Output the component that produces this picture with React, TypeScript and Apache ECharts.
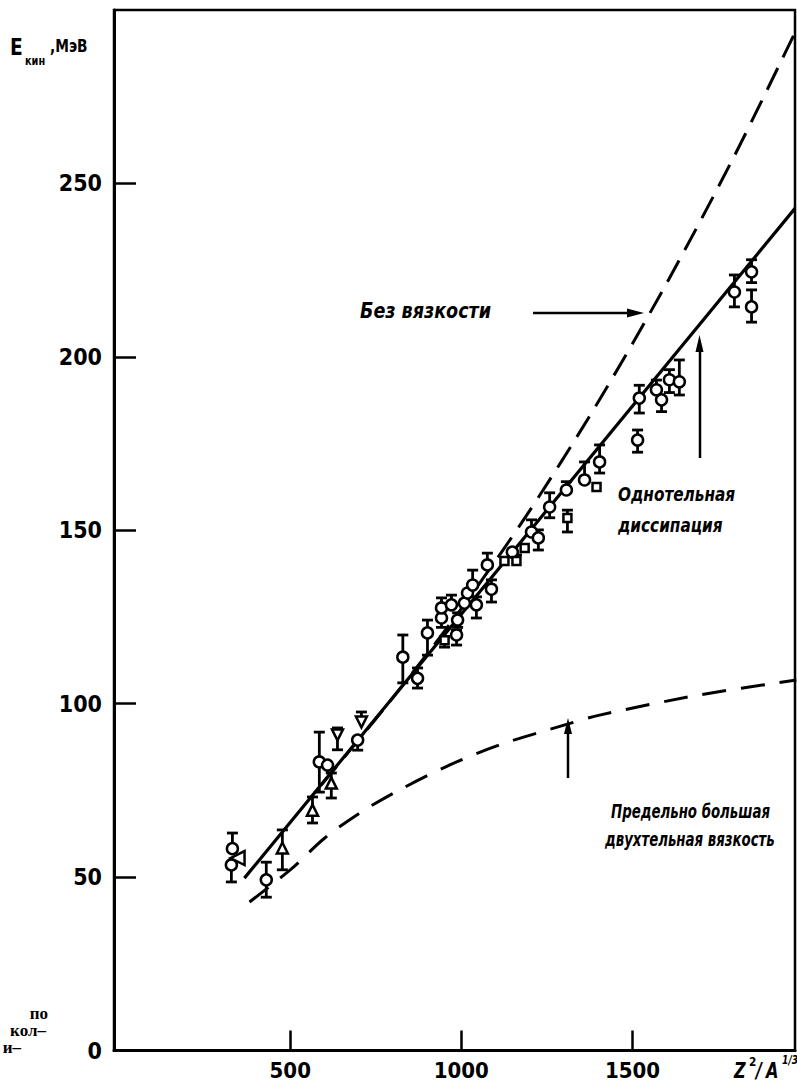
import React, { useEffect, useRef } from "react";
import * as echarts from "echarts";

// ---- data ----
const xTickValues = [500, 1000, 1500];
const yTickValues = [0, 50, 100, 150, 200, 250];

// [x, E, low, high]
const circlePoints = [
  [331, 58.2, 58.2, 62.7],
  [328, 53.5, 48.6, 53.5],
  [430, 49.2, 44.2, 54.3],
  [585, 83.2, 74.5, 91.8],
  [609, 82.3, 82.3, 82.3],
  [697, 89.5, 86.6, 89.5],
  [829, 113.4, 106, 119.8],
  [872, 107.3, 104.5, 110.3],
  [901, 120.4, 114, 124.1],
  [942, 124.7, 122, 124.7],
  [942, 127.6, 127.6, 130.5],
  [971, 128.5, 128.5, 131.3],
  [989, 124.1, 122, 126.2],
  [986, 119.8, 116.9, 121.2],
  [1009, 129, 129, 129],
  [1018, 131.9, 131.9, 131.9],
  [1033, 134.2, 134.2, 138.5],
  [1044, 128.5, 124.7, 130.8],
  [1076, 140, 140, 143.4],
  [1088, 133, 129.3, 135.7],
  [1149, 143.7, 143.7, 143.7],
  [1205, 149.5, 149.5, 153],
  [1225, 147.8, 144.3, 150.1],
  [1258, 156.7, 153.6, 160.8],
  [1307, 161.6, 161.6, 164],
  [1360, 164.5, 164.5, 169.7],
  [1404, 169.7, 166.5, 174.6],
  [1515, 176, 172.5, 178.9],
  [1520, 188.1, 183.8, 191.8],
  [1570, 190.5, 190.5, 193.3],
  [1585, 187.6, 184.2, 187.6],
  [1608, 193.4, 189.7, 196.3],
  [1637, 192.8, 189, 199.1],
  [1798, 218.7, 214.4, 223.6],
  [1848, 224.5, 221.4, 228],
  [1848, 214.4, 210, 219.3],
];
const triangleUpPoints = [
  [477, 58.4, 52.1, 63.6],
  [565, 69.3, 65.6, 73.1],
  [620, 77.1, 72.8, 80],
];
const triangleDownPoints = [
  [638, 91, 86.7, 93],
  [708, 94.7, 94.7, 97.6],
];
const triangleLeftPoints = [[346, 55.5, 55.5, 55.5]];
const squarePoints = [
  [951, 118.3, 116.3, 119.2],
  [1126, 141.1, 141.1, 141.1],
  [1161, 141.1, 141.1, 142.9],
  [1185, 144.9, 144.9, 144.9],
  [1310, 153.5, 149.5, 155.8],
  [1395, 162.5, 162.5, 162.5],
];

// theory curves
const oneBodyLine = [
  [366, 49.7],
  [1975, 242.8],
];
const noViscosityCurve = [
  [591, 76.6],
  [791, 100.6],
  [991, 126.2],
  [1192, 154.5],
  [1392, 185.7],
  [1593, 220],
  [1793, 257],
  [1975, 293.5],
];
const twoBodyCurve = [
  [381, 42.8],
  [506, 52.6],
  [600, 61.2],
  [708, 68.8],
  [819, 75.1],
  [965, 82.3],
  [1111, 88.1],
  [1310, 94.1],
  [1404, 96.7],
  [1695, 102.5],
  [1979, 106.8],
];

const FONT = "'DejaVu Sans Condensed', 'DejaVu Sans', sans-serif";

export default function App() {
  const ref = useRef<HTMLDivElement>(null);
  useEffect(() => {
    if (!ref.current) return;
    const chart = echarts.init(ref.current, null, { renderer: "svg" });

    const allPoints = [
      ...circlePoints,
      ...triangleUpPoints,
      ...triangleDownPoints,
      ...triangleLeftPoints,
      ...squarePoints,
    ];

    const markerStyle = { color: "#fff", borderColor: "#000", borderWidth: 2.5, opacity: 1 };

    const scatter = (data: number[][], symbol: string, size: number, rotate = 0) => ({
      type: "scatter",
      data: data.map((d) => [d[0], d[1]]),
      symbol,
      symbolSize: size,
      symbolRotate: rotate,
      itemStyle: markerStyle,
      z: 5,
      silent: true,
    });

    const arrowLine = (x1: number, y1: number, x2: number, y2: number) => ({
      type: "line",
      shape: { x1, y1, x2, y2 },
      style: { stroke: "#000", lineWidth: 2.5 },
    });
    const head = (pts: number[][]) => ({
      type: "polygon",
      shape: { points: pts },
      style: { fill: "#000" },
    });
    const txt = (x: number, y: number, text: string, size: number, extra: any = {}, sx = 1) => ({
      type: "text",
      x,
      y,
      scaleX: sx,
      style: {
        text,
        fontSize: size,
        fontFamily: FONT,
        fontWeight: "bold",
        fill: "#000",
        verticalAlign: "middle",
        ...extra,
      },
    });
    const serifTxt = (x: number, y: number, text: string) => ({
      type: "text",
      x,
      y,
      style: {
        text,
        fontSize: 17,
        fontFamily: "'Liberation Serif', 'DejaVu Serif', serif",
        fontWeight: "bold",
        fill: "#000",
        align: "right",
        verticalAlign: "middle",
      },
    });

    chart.setOption({
      animation: false,
      backgroundColor: "#fff",
      grid: {
        left: 114,
        right: 2,
        top: 10,
        bottom: 34.5,
        show: true,
        borderColor: "#000",
        borderWidth: 2.5,
      },
      xAxis: {
        type: "value",
        min: -15,
        max: 1975,
        axisLine: { show: true, onZero: false, lineStyle: { color: "#000", width: 3 } },
        axisTick: {
          show: true,
          inside: true,
          length: 20,
          customValues: xTickValues,
          lineStyle: { color: "#000", width: 2.5 },
        },
        axisLabel: {
          customValues: xTickValues,
          formatter: (v: number) => String(v),
          margin: 9,
          fontSize: 22,
          fontWeight: "bold",
          fontFamily: FONT,
          color: "#000",
        },
        splitLine: { show: false },
      },
      yAxis: {
        type: "value",
        min: 0,
        max: 300,
        axisLine: { show: true, onZero: false, lineStyle: { color: "#000", width: 3 } },
        axisTick: {
          show: true,
          inside: true,
          length: 22,
          customValues: yTickValues,
          lineStyle: { color: "#000", width: 2.5 },
        },
        axisLabel: {
          customValues: yTickValues,
          formatter: (v: number) => String(v),
          margin: 12,
          fontSize: 23,
          fontWeight: "bold",
          fontFamily: FONT,
          color: "#000",
        },
        splitLine: { show: false },
      },
      series: [
        {
          type: "line",
          data: oneBodyLine,
          showSymbol: false,
          lineStyle: { color: "#000", width: 3.2 },
          z: 2,
          silent: true,
        },
        {
          type: "line",
          data: noViscosityCurve,
          showSymbol: false,
          smooth: 0.3,
          lineStyle: { color: "#000", width: 3, type: [24, 12] },
          z: 2,
          silent: true,
        },
        {
          type: "line",
          data: twoBodyCurve,
          showSymbol: false,
          smooth: 0.3,
          lineStyle: { color: "#000", width: 3, type: [24, 15] },
          z: 2,
          silent: true,
        },
        {
          type: "custom",
          data: allPoints,
          z: 3,
          silent: true,
          renderItem: (params: any, api: any) => {
            const x = api.value(0);
            const v = api.value(1);
            const lo = api.value(2);
            const hi = api.value(3);
            if (lo === hi) return null;
            const pHi = api.coord([x, hi]);
            const pLo = api.coord([x, lo]);
            const children: any[] = [
              {
                type: "line",
                shape: { x1: pHi[0], y1: pHi[1], x2: pLo[0], y2: pLo[1] },
                style: { stroke: "#000", lineWidth: 2.8 },
              },
            ];
            if (hi > v)
              children.push({
                type: "line",
                shape: { x1: pHi[0] - 5.5, y1: pHi[1], x2: pHi[0] + 5.5, y2: pHi[1] },
                style: { stroke: "#000", lineWidth: 2.8 },
              });
            if (lo < v)
              children.push({
                type: "line",
                shape: { x1: pLo[0] - 5.5, y1: pLo[1], x2: pLo[0] + 5.5, y2: pLo[1] },
                style: { stroke: "#000", lineWidth: 2.8 },
              });
            return { type: "group", children };
          },
        },
        scatter(circlePoints, "circle", 11),
        scatter(triangleUpPoints, "triangle", 11),
        scatter(triangleDownPoints, "triangle", 11, 180),
        scatter(triangleLeftPoints, "triangle", 14, 90),
        scatter(squarePoints, "rect", 8),
      ],
      graphic: [
        // y axis title
        txt(10, 47, "E", 23, {}, 0.9),
        txt(25, 61, "кин", 12, {}, 0.9),
        txt(50, 46, ",МэВ", 17, {}, 0.9),
        // x axis title
        txt(734, 1071, "Z", 21, { fontStyle: "italic" }, 0.85),
        txt(749, 1062, "2", 13, {}, 0.9),
        txt(756, 1071, "/", 21, { fontStyle: "italic" }, 0.85),
        txt(766, 1071, "A", 21, { fontStyle: "italic" }, 0.85),
        txt(782, 1060, "1/3", 12, { fontStyle: "italic" }, 0.85),
        // annotations
        txt(360, 311, "Без вязкости", 21, { fontStyle: "italic" }, 0.93),
        arrowLine(533, 313, 628, 313),
        head([[644, 313], [627, 308.5], [627, 317.5]]),
        txt(618, 494, "Однотельная", 20, { fontStyle: "italic" }, 0.85),
        txt(618, 525, "диссипация", 20, { fontStyle: "italic" }, 0.85),
        arrowLine(700, 458, 700, 350),
        head([[699.5, 335], [695.5, 352], [703.5, 352]]),
        txt(611, 811, "Предельно большая", 19, { fontStyle: "italic" }, 0.78),
        txt(605, 839, "двухтельная вязкость", 19, { fontStyle: "italic" }, 0.78),
        arrowLine(568, 778, 568, 732),
        head([[568, 718], [564, 734], [572, 734]]),
        // cut-off text from the neighbouring page
        serifTxt(48, 1013, "по"),
        serifTxt(46, 1030, "кол–"),
        serifTxt(21, 1047, "и–"),
      ],
    });
    return () => chart.dispose();
  }, []);

  return (
    <div
      ref={ref}
      style={{ position: "absolute", left: 0, top: 0, width: 797, height: 1085, background: "#fff" }}
    />
  );
}
